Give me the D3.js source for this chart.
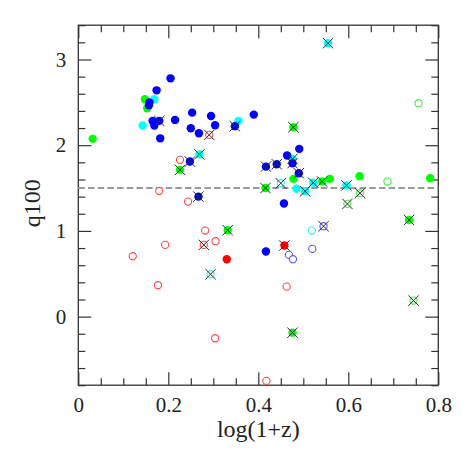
<!DOCTYPE html>
<html>
<head>
<meta charset="utf-8">
<script src="https://cdn.jsdelivr.net/npm/d3@7"></script>
<style>
  html, body { margin: 0; padding: 0; background: #fff; }
  svg { display: block; }
</style>
</head>
<body>
<svg id="chart" width="463" height="463"></svg>
<script>
// ---- data: [log(1+z), q100, crossed(1/0)] ----
const blueFilled = [
  [0.205, 2.78, 0], [0.174, 2.64, 0], [0.158, 2.50, 0], [0.157, 2.465, 0],
  [0.253, 2.38, 0], [0.295, 2.34, 0], [0.390, 2.357, 0], [0.165, 2.284, 0],
  [0.169, 2.229, 0], [0.215, 2.295, 0], [0.250, 2.198, 0], [0.304, 2.233, 0],
  [0.268, 2.14, 0], [0.182, 2.08, 0], [0.491, 1.957, 0], [0.464, 1.88, 0],
  [0.457, 1.32, 0], [0.417, 0.759, 0],
  [0.180, 2.284, 1], [0.348, 2.222, 1], [0.248, 1.809, 1], [0.267, 1.40, 1],
  [0.417, 1.75, 1], [0.441, 1.778, 1], [0.476, 1.79, 1], [0.490, 1.673, 1]
];
const cyanFilled = [
  [0.169, 2.537, 0], [0.143, 2.229, 0], [0.356, 2.284, 0], [0.485, 1.492, 0],
  [0.555, 3.19, 1], [0.269, 1.893, 1], [0.476, 1.84, 1], [0.504, 1.462, 1],
  [0.522, 1.562, 1], [0.596, 1.531, 1]
];
const greenFilled = [
  [0.032, 2.074, 0], [0.148, 2.537, 0], [0.153, 2.43, 0], [0.478, 1.607, 0],
  [0.559, 1.607, 0], [0.625, 1.638, 0], [0.782, 1.615, 0],
  [0.478, 2.21, 1], [0.226, 1.712, 1], [0.416, 1.50, 1], [0.542, 1.576, 1],
  [0.332, 1.008, 1], [0.735, 1.128, 1], [0.476, -0.187, 1]
];
const redFilled = [
  [0.330, 0.67, 0], [0.458, 0.829, 1]
];
const redOpen = [
  [0.226, 1.829, 0], [0.180, 1.465, 0], [0.244, 1.342, 0], [0.282, 1.004, 0],
  [0.305, 0.88, 0], [0.193, 0.837, 0], [0.121, 0.705, 0], [0.177, 0.366, 0],
  [0.463, 0.35, 0], [0.304, -0.252, 0], [0.418, -0.75, 0],
  [0.291, 2.12, 1], [0.279, 0.837, 1]
];
const blueOpen = [
  [0.520, 0.79, 0], [0.468, 0.72, 0], [0.477, 0.67, 0], [0.545, 1.055, 1]
];
const cyanOpen = [
  [0.519, 1.004, 0], [0.450, 1.556, 1], [0.294, 0.495, 1]
];
const greenOpen = [
  [0.756, 2.49, 0], [0.687, 1.576, 0],
  [0.626, 1.44, 1], [0.598, 1.315, 1], [0.745, 0.187, 1]
];
const thresholdQ = 1.5;
const xMajorTicks = [0, 0.2, 0.4, 0.6, 0.8];
const xTickLabels = ["0", "0.2", "0.4", "0.6", "0.8"];
const yMajorTicks = [0, 1, 2, 3];
const yTickLabels = ["0", "1", "2", "3"];
const xLabel = "log(1+z)";
const yLabel = "q100";

// ---- layout ----
const FONT = '"Liberation Serif", "Times New Roman", serif';
const L = 78.3, T = 25.2, W = 360, H = 360;
const svg = d3.select("#chart");
const x = d3.scaleLinear().domain([0, 0.8]).range([L, L + W]);
const y = d3.scaleLinear().domain([-0.8, 3.4]).range([T + H, T]);

const axisColor = "#333";
const xMinor = d3.range(0, 0.8001, 0.05).filter(v => Math.abs(v / 0.2 - Math.round(v / 0.2)) > 1e-6);
const yMinor = d3.range(-0.8, 3.4001, 0.2).filter(v => Math.abs(v - Math.round(v)) > 1e-6);

function styleAxis(g) {
  g.attr("font-family", null).attr("font-size", null);
  g.select(".domain").remove();
  g.selectAll(".tick line").attr("stroke", axisColor).attr("stroke-width", 1.2);
  g.selectAll(".tick text").style("font-size", "21px").style("fill", "#222")
    .style("font-family", FONT);
}
const MAJ = 13, MIN = 7;
// bottom
svg.append("g").attr("transform", `translate(0,${T + H})`)
  .call(d3.axisBottom(x).tickValues(xMajorTicks).tickSize(-MAJ).tickPadding(12)
    .tickFormat((d, i) => xTickLabels[i])).call(styleAxis);
svg.append("g").attr("transform", `translate(0,${T + H})`)
  .call(d3.axisBottom(x).tickValues(xMinor).tickSize(-MIN).tickFormat("")).call(styleAxis);
// top
svg.append("g").attr("transform", `translate(0,${T})`)
  .call(d3.axisTop(x).tickValues(xMajorTicks).tickSize(-MAJ).tickFormat("")).call(styleAxis);
svg.append("g").attr("transform", `translate(0,${T})`)
  .call(d3.axisTop(x).tickValues(xMinor).tickSize(-MIN).tickFormat("")).call(styleAxis);
// left
svg.append("g").attr("transform", `translate(${L},0)`)
  .call(d3.axisLeft(y).tickValues(yMajorTicks).tickSize(-MAJ).tickPadding(12)
    .tickFormat((d, i) => yTickLabels[i])).call(styleAxis);
svg.append("g").attr("transform", `translate(${L},0)`)
  .call(d3.axisLeft(y).tickValues(yMinor).tickSize(-MIN).tickFormat("")).call(styleAxis);
// right
svg.append("g").attr("transform", `translate(${L + W},0)`)
  .call(d3.axisRight(y).tickValues(yMajorTicks).tickSize(-MAJ).tickFormat("")).call(styleAxis);
svg.append("g").attr("transform", `translate(${L + W},0)`)
  .call(d3.axisRight(y).tickValues(yMinor).tickSize(-MIN).tickFormat("")).call(styleAxis);

// frame
svg.append("rect").attr("x", L).attr("y", T).attr("width", W).attr("height", H)
  .attr("fill", "none").attr("stroke", axisColor).attr("stroke-width", 1.3);

// dashed threshold line
svg.append("line").attr("x1", L).attr("x2", L + W)
  .attr("y1", y(thresholdQ)).attr("y2", y(thresholdQ))
  .attr("stroke", "#9a9a9a").attr("stroke-width", 2).attr("stroke-dasharray", "6.5,3.2");

// points
const pts = svg.append("g");
function openSeries(data, color) {
  pts.selectAll(null).data(data).enter().append("circle")
    .attr("cx", d => x(d[0])).attr("cy", d => y(d[1])).attr("r", 3.6)
    .attr("fill", "#fff").attr("stroke", color).attr("stroke-width", 1.1);
}
function filledSeries(data, color) {
  pts.selectAll(null).data(data).enter().append("circle")
    .attr("cx", d => x(d[0])).attr("cy", d => y(d[1])).attr("r", 4.2)
    .attr("fill", color);
}
openSeries(redOpen, "#ff4a4a");
openSeries(blueOpen, "#5a5aff");
openSeries(cyanOpen, "#33f0f0");
openSeries(greenOpen, "#44ee44");
filledSeries(greenFilled, "#00ff00");
filledSeries(cyanFilled, "#00ffff");
filledSeries(blueFilled, "#0000ff");
filledSeries(redFilled, "#ff0000");

// crosses
const allSeries = [].concat(redOpen, blueOpen, cyanOpen, greenOpen, greenFilled, cyanFilled, blueFilled, redFilled);
const crossed = allSeries.filter(d => d[2] === 1);
const S = 5.2;
const cg = svg.append("g").attr("stroke", "#2a2a2a").attr("stroke-width", 1);
cg.selectAll(null).data(crossed).enter().append("path")
  .attr("d", d => {
    const cx = x(d[0]), cy = y(d[1]);
    return `M${cx - S},${cy - S}L${cx + S},${cy + S}M${cx - S},${cy + S}L${cx + S},${cy - S}`;
  });

// axis labels
svg.append("text").attr("x", L + W / 2).attr("y", 436.5).attr("text-anchor", "middle")
  .style("font-family", FONT).style("font-size", "24px").style("fill", "#222").text(xLabel);
svg.append("text").attr("transform", `translate(39.5,${T + H / 2 - 2}) rotate(-90)`)
  .attr("text-anchor", "middle")
  .style("font-family", FONT).style("font-size", "24px").style("fill", "#222").text(yLabel);
</script>
</body>
</html>
